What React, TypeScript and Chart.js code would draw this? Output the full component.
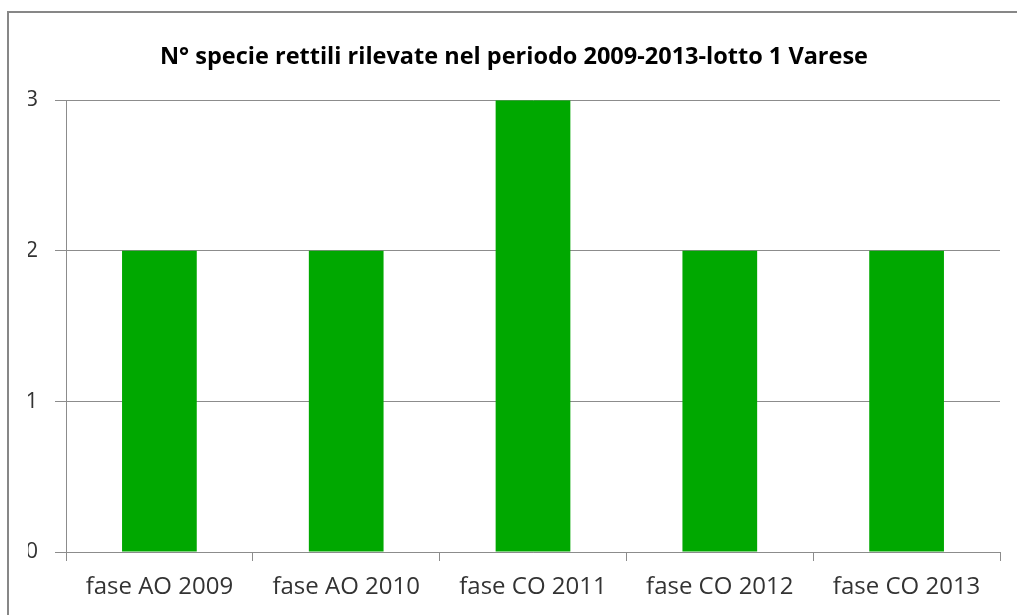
import React, { useEffect, useRef } from "react";
import { Chart, registerables } from "chart.js";

Chart.register(...registerables);

const title = "N° specie rettili rilevate nel periodo 2009-2013-lotto 1 Varese";
const categories = ["fase AO 2009", "fase AO 2010", "fase CO 2011", "fase CO 2012", "fase CO 2013"];
const speciesCount = [2, 2, 3, 2, 2];
const yTicks = [0, 1, 2, 3];

const FONT = "'Open Sans', 'DejaVu Sans', sans-serif";

const framePlugin = {
  id: "frame",
  beforeDraw(chart: any) {
    const ctx = chart.ctx;
    ctx.save();
    ctx.strokeStyle = "#878787";
    ctx.lineWidth = 2;
    ctx.beginPath();
    ctx.moveTo(8, chart.height);
    ctx.lineTo(8, 12);
    ctx.lineTo(chart.width, 12);
    ctx.stroke();
    ctx.restore();
  },
};

export default function App() {
  const ref = useRef<HTMLCanvasElement>(null);
  useEffect(() => {
    if (!ref.current) return;
    const chart = new Chart(ref.current, {
      type: "bar",
      data: {
        labels: categories,
        datasets: [
          {
            label: "N° specie",
            data: speciesCount,
            backgroundColor: "#00A800",
            borderWidth: 0,
            barPercentage: 0.4,
            categoryPercentage: 1,
          },
        ],
      },
      options: {
        responsive: false,
        animation: false,
        layout: { padding: { left: 28, right: 17, top: 0, bottom: 0 } },
        plugins: {
          legend: { display: false },
          tooltip: { enabled: false },
          title: {
            display: true,
            text: title,
            color: "#000000",
            font: { family: FONT, size: 23.5, weight: "bold", lineHeight: 1.2 },
            padding: { top: 43, bottom: 29 },
          },
        },
        scales: {
          x: {
            offset: true,
            grid: {
              offset: true,
              drawOnChartArea: false,
              drawTicks: true,
              tickLength: 9,
              color: "#8c8c8c",
            },
            border: { display: true, color: "#8c8c8c", width: 1 },
            ticks: {
              color: "#333333",
              font: { family: FONT, size: 24 },
              padding: 12,
              maxRotation: 0,
              autoSkip: false,
            },
            afterFit(axis: any) {
              axis.height = 63;
            },
          },
          y: {
            min: 0,
            max: 3,
            afterBuildTicks(axis: any) {
              axis.ticks = yTicks.map((v) => ({ value: v }));
            },
            grid: {
              color: "#8c8c8c",
              drawTicks: true,
              tickLength: 11,
            },
            border: { display: true, color: "#8c8c8c", width: 1 },
            ticks: {
              color: "#333333",
              font: { family: FONT, size: 22 },
              padding: 17,
            },
            afterFit(axis: any) {
              axis.width = 38;
            },
          },
        },
      },
      plugins: [framePlugin],
    });
    return () => chart.destroy();
  }, []);
  return (
    <div style={{ position: "absolute", left: 0, top: 0, width: 1017, height: 615, background: "#ffffff" }}>
      <canvas ref={ref} width={1017} height={615} style={{ display: "block" }} />
    </div>
  );
}
